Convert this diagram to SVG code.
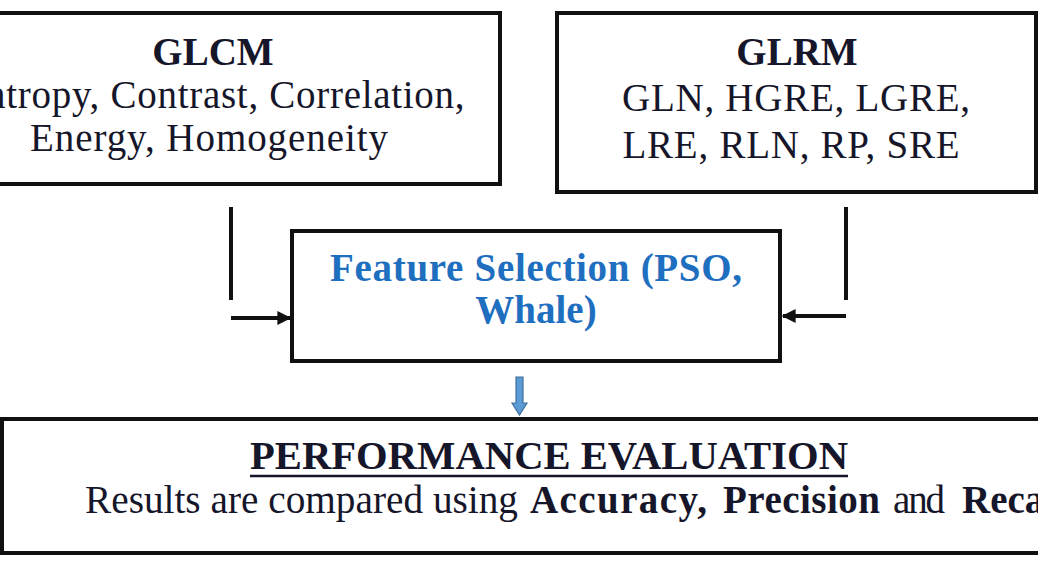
<svg xmlns="http://www.w3.org/2000/svg" width="1038" height="576" viewBox="0 0 1038 576">
  <style>
    .box { fill: #ffffff; stroke: #111111; stroke-width: 4; }
    .t { font-family: "Liberation Serif", "Times New Roman", serif; font-size: 39px; fill: #16162a; text-anchor: middle; }
    .b { font-weight: bold; }
    .blue { fill: #1f6fc0; font-weight: bold; }
    .conn { stroke: #111111; stroke-width: 4; fill: none; }
  </style>
  <defs>
    <marker id="ah" viewBox="0 0 10 10" refX="9" refY="5" markerWidth="16" markerHeight="14" markerUnits="userSpaceOnUse" orient="auto">
      <path d="M0,0 L10,5 L0,10 Z" fill="#111111"/>
    </marker>
  </defs>
  <rect width="1038" height="576" fill="#ffffff"/>

  <g id="glcm">
    <rect class="box" x="-80" y="13" width="580" height="171"/>
    <text class="t b" x="213" y="65">GLCM</text>
    <text class="t" x="213" y="108" textLength="503" lengthAdjust="spacing">Entropy, Contrast, Correlation,</text>
    <text class="t" x="209" y="151" textLength="358" lengthAdjust="spacing">Energy, Homogeneity</text>
  </g>

  <g id="glrm">
    <rect class="box" x="557" y="13" width="479" height="179"/>
    <text class="t b" x="797" y="65">GLRM</text>
    <text class="t" x="796" y="111" textLength="348" lengthAdjust="spacing">GLN, HGRE, LGRE,</text>
    <text class="t" x="791" y="158" textLength="337" lengthAdjust="spacing">LRE, RLN, RP, SRE</text>
  </g>

  <g id="feature-selection">
    <rect class="box" x="292" y="231" width="488" height="130"/>
    <text class="t blue" x="536" y="281" textLength="412" lengthAdjust="spacing">Feature Selection (PSO,</text>
    <text class="t blue" x="536" y="323">Whale)</text>
  </g>

  <g id="performance-evaluation">
    <rect class="box" x="2" y="419" width="1100" height="134" stroke-width="3"/>
    <text class="t b" x="549" y="469" textLength="598" lengthAdjust="spacingAndGlyphs">PERFORMANCE EVALUATION</text>
    <line x1="250" y1="476" x2="848" y2="476" stroke="#16162a" stroke-width="2.5"/>
    <text class="t" y="513" style="text-anchor:start"><tspan x="85" textLength="433" lengthAdjust="spacingAndGlyphs">Results are compared using</tspan><tspan x="530" font-weight="bold" textLength="177" lengthAdjust="spacing">Accuracy,</tspan><tspan x="723" font-weight="bold" textLength="157" lengthAdjust="spacing">Precision</tspan><tspan x="893" textLength="52" lengthAdjust="spacing">and</tspan><tspan x="962" font-weight="bold">Recall</tspan></text>
  </g>

  <g id="connectors">
    <line class="conn" x1="231" y1="207" x2="231" y2="300"/>
    <line class="conn" x1="231" y1="318" x2="290" y2="318" marker-end="url(#ah)"/>
    <line class="conn" x1="846" y1="207" x2="846" y2="300"/>
    <line class="conn" x1="846" y1="316" x2="783" y2="316" marker-end="url(#ah)"/>
    <path d="M516,377 L523,377 L523,403 L527,403 L519.5,415 L512,403 L516,403 Z" fill="#5b9bd5" stroke="#41719c" stroke-width="1.2"/>
  </g>
</svg>
